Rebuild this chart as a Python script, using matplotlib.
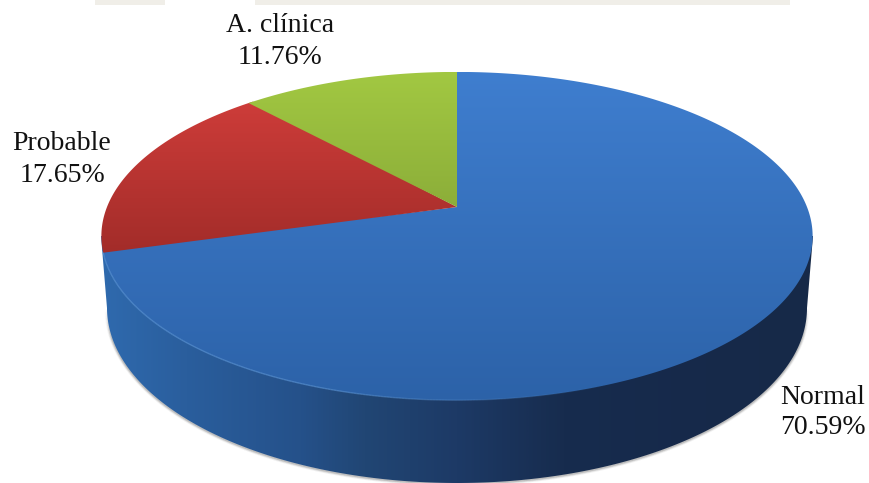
import numpy as np
import matplotlib
matplotlib.use("Agg")
import matplotlib.pyplot as plt
from matplotlib.colors import LinearSegmentedColormap, to_rgb
from matplotlib.patches import Polygon, Rectangle
from matplotlib.collections import LineCollection

# Series, ordered clockwise from twelve o'clock
categories = ["Normal", "Probable", "A. clínica"]
percentages = [70.59, 17.65, 11.76]

WIDTH, HEIGHT = 869, 483
APEX = (457.0, 207.0)
TILT = 0.177
SCALE_X, SCALE_Y = 350.0, 159.0
OVERLAP = np.radians(1.0)  # tucked under the neighbouring wedge to avoid seams


def disc_to_canvas(radius, angle):
    """Project polar disc coordinates (clockwise from the back) in perspective."""
    x = radius * np.sin(angle)
    y = radius * np.cos(angle)
    w = 1 + TILT * y
    return APEX[0] + SCALE_X * x / w, APEX[1] - SCALE_Y * y / w


def ellipse(cx, cy, rx, ry, a0, a1, n=200):
    t = np.radians(np.linspace(a0, a1, n))
    return np.column_stack([cx + rx * np.cos(t), cy + ry * np.sin(t)])


def gradient_fill(ax, path_xy, stops, extent, horizontal=False, zorder=2):
    """Fill a polygon with a linear gradient running across the given extent."""
    cmap = LinearSegmentedColormap.from_list("fill", stops)
    ramp = np.linspace(0, 1, 512)
    data = ramp[None, :] if horizontal else ramp[:, None]
    im = ax.imshow(data, cmap=cmap, vmin=0, vmax=1, aspect="auto", origin="upper",
                   extent=(extent[0], extent[1], extent[3], extent[2]),
                   zorder=zorder, interpolation="bilinear")
    clip = Polygon(path_xy, closed=True, transform=ax.transData,
                   facecolor="none", edgecolor="none")
    ax.add_patch(clip)
    im.set_clip_path(clip)


def faded_line(ax, pts, rgb, alphas, lw, zorder):
    """Stroke a polyline whose opacity varies from segment to segment."""
    segments = np.stack([pts[:-1], pts[1:]], axis=1)
    colors = np.zeros((len(segments), 4))
    colors[:, :3] = to_rgb(rgb)
    colors[:, 3] = alphas
    ax.add_collection(LineCollection(segments, colors=colors, linewidths=lw,
                                     zorder=zorder, capstyle="butt"))


fig = plt.figure(figsize=(WIDTH / 100, HEIGHT / 100), dpi=100)
ax = fig.add_axes([0, 0, 1, 1])
ax.axis("off")

# Pale strip along the upper edge
for x0, x1 in [(95, 165), (255, 790)]:
    ax.add_patch(Rectangle((x0, 0), x1 - x0, 4.5, facecolor="#f0eee8",
                           edgecolor="none", zorder=1))

# Side wall: top rim down to the lower rim
lower_rim = ellipse(457, 308, 350, 175, 180, 0, n=400)
side = np.vstack([[[101, 236]], lower_rim, [[813, 236]]])

# Soft shadow hugging the lower rim, fading out towards the top of the wall
shadow_path = lower_rim + np.array([0, 0.6])
taper = np.clip((shadow_path[:-1, 1] - 308) / 30, 0, 1)
for lw, alpha in [(3.6, 0.07), (2.4, 0.12), (1.3, 0.18)]:
    faded_line(ax, shadow_path, "#3c3c3c", alpha * taper, lw, 1.5)

side_stops = [
    (0.00, "#2f6aae"), (0.12, "#2a5e9d"), (0.28, "#25518a"), (0.37, "#214674"),
    (0.50, "#1d3a66"), (0.65, "#172c4e"), (0.85, "#16294a"), (1.00, "#172a48"),
]
gradient_fill(ax, side, side_stops, (100, 814, 200, 483), horizontal=True, zorder=2)

# Top face: one wedge per category, swept clockwise from twelve o'clock
wedge_stops = [
    (["#3f7ecf", "#2c62a8"], (72, 402)),
    (["#cf3d3a", "#a22c29"], (95, 255)),
    (["#a2c842", "#8cae39"], (72, 207)),
]
start = 0.0
boundaries = []
for i, (value, (stops, (y0, y1))) in enumerate(zip(percentages, wedge_stops)):
    sweep = value / sum(percentages) * 2 * np.pi
    lead = OVERLAP if i == 0 else 0.0
    tail = OVERLAP if i < len(percentages) - 1 else 0.0
    angles = np.linspace(start - lead, start + sweep + tail, 400)
    xs, ys = disc_to_canvas(1.0, angles)
    outline = np.vstack([[APEX], np.column_stack([xs, ys])])
    gradient_fill(ax, outline, stops, (90, 825, y0, y1), zorder=3 + 0.1 * i)
    boundaries.append((start, start + sweep))
    start += sweep

# Bevel highlight along the front of the top rim, fading to the right
angles = np.linspace(boundaries[0][1], np.pi * 0.72, 300)
xs, ys = disc_to_canvas(1.0, angles)
pts = np.column_stack([xs, ys])
fade = np.clip((620 - pts[:-1, 0]) / 300, 0, 1)
faded_line(ax, pts, "#5f97d6", 0.6 * fade, 1.0, 4)

# Category labels
label_font = dict(family="Liberation Serif", fontsize=20, color="#111111",
                  ha="center", va="center", zorder=5)
label_positions = {"Normal": (823, 397, 428), "Probable": (62, 143, 176),
                   "A. clínica": (280, 25, 57)}
for name, value in zip(categories, percentages):
    x, y_name, y_value = label_positions[name]
    ax.text(x, y_name, name, **label_font)
    ax.text(x, y_value, f"{value:.2f}%", **label_font)

ax.set_xlim(0, WIDTH)
ax.set_ylim(HEIGHT, 0)
fig.savefig("out.png", dpi=100, facecolor="white")
